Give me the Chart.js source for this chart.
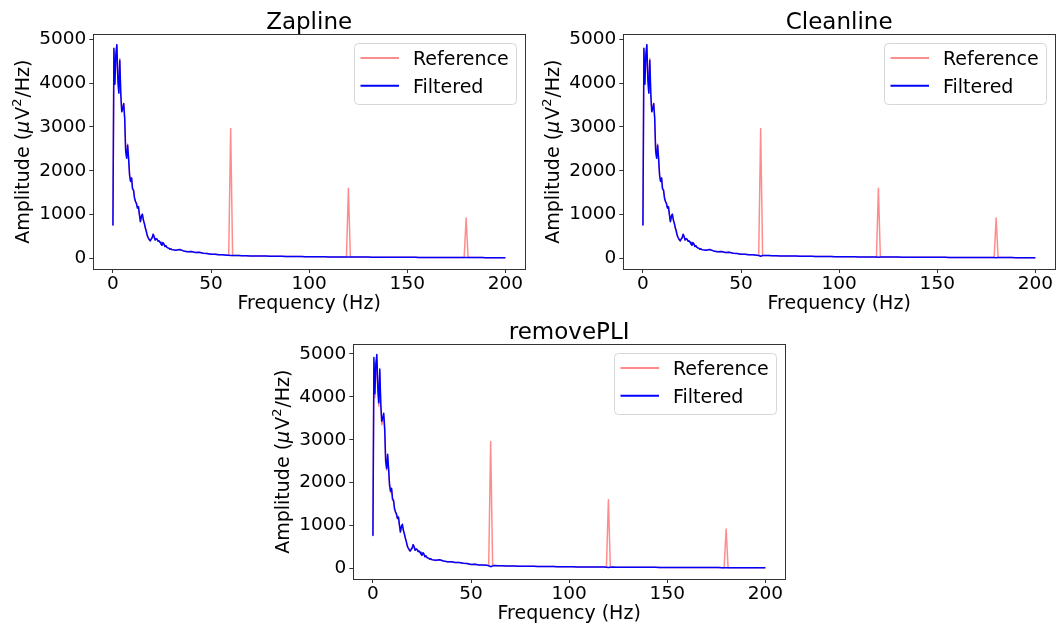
<!DOCTYPE html>
<html>
<head>
<meta charset="utf-8">
<title>Line noise removal: PSD comparison</title>
<script src="https://cdn.jsdelivr.net/npm/chart.js@4.4.1/dist/chart.umd.min.js"></script>
<style>
  html, body { margin: 0; padding: 0; background: #fff; }
  body { width: 1058px; height: 626px; position: relative; overflow: hidden; }
  .panel { position: absolute; }
</style>
</head>
<body>
<div class="panel" style="left:0;top:0"><canvas id="zapline" width="529" height="316"></canvas></div>
<div class="panel" style="left:530px;top:0"><canvas id="cleanline" width="528" height="316"></canvas></div>
<div class="panel" style="left:260px;top:310px"><canvas id="removepli" width="529" height="316"></canvas></div>
<script>
// ── data ─────────────────────────────────────────────────────────────────

// frequency grid (Hz): 0.5 Hz steps up to 30 Hz, then 2 Hz steps plus the line-noise bins
const freqs = [
  0, 0.5, 1, 1.5, 2, 2.5, 3, 3.5, 4, 4.5, 5, 5.5, 6, 6.5, 7, 7.5, 8, 8.5, 9, 9.5,
  10, 10.5, 11, 11.5, 12, 12.5, 13, 13.5, 14, 14.5, 15, 15.5, 16, 16.5, 17, 17.5, 18, 18.5, 19, 19.5,
  20, 20.5, 21, 21.5, 22, 22.5, 23, 23.5, 24, 24.5, 25, 25.5, 26, 26.5, 27, 27.5, 28, 28.5, 29, 29.5, 30,
  32, 34, 36, 38, 40, 42, 44, 46, 48, 50, 52, 54, 56, 58, 59, 60, 61,
  62, 64, 66, 68, 70, 72, 74, 76, 78, 80, 82, 84, 86, 88, 90, 92, 94, 96, 98, 100,
  102, 104, 106, 108, 110, 112, 114, 116, 118, 119, 120, 121,
  122, 124, 126, 128, 130, 132, 134, 136, 138, 140, 142, 144, 146, 148, 150, 152, 154, 156, 158, 160,
  162, 164, 166, 168, 170, 172, 174, 176, 178, 179, 180, 181,
  182, 184, 186, 188, 190, 192, 194, 196, 198, 200,
];

// unfiltered PSD (µV²/Hz), with the 60/120/180 Hz line-noise peaks
const reference = [
  750, 4800, 3980, 4680, 4880, 4100, 3780, 4560, 3760, 3350, 3420, 3540, 3200, 2450, 2290, 2610, 2270, 1900, 1760, 1840,
  1590, 1560, 1380, 1300, 1250, 1150, 1180, 1000, 840, 960, 1010, 880, 800, 700, 620, 520, 470, 430, 400, 440,
  470, 550, 500, 420, 450, 440, 390, 400, 370, 330, 300, 360, 330, 270, 290, 250, 240, 230, 210, 220, 200,
  185, 200, 170, 152, 155, 135, 138, 118, 112, 92, 95, 80, 80, 72, 70, 2960, 67,
  66, 63, 61, 58, 56, 55, 53, 52, 51, 50, 48, 47, 46, 45, 44, 42, 41, 40, 39, 37,
  36, 35, 35, 34, 33, 33, 32, 31, 31, 30, 1600, 30,
  30, 29, 29, 28, 28, 27, 27, 26, 26, 26, 25, 25, 24, 24, 24, 23, 23, 22, 22, 22,
  21, 21, 20, 20, 20, 19, 19, 19, 18, 18, 920, 18,
  18, 17, 17, 17, 16, 16, 16, 15, 15, 15,
];

const zaplineFiltered = [
  750, 4790, 3975, 4640, 4875, 4090, 3770, 4520, 3755, 3345, 3415, 3530, 3195, 2445, 2285, 2580, 2265, 1895, 1755, 1835,
  1585, 1555, 1378, 1298, 1248, 1148, 1178, 998, 838, 958, 1008, 878, 798, 698, 618, 519, 469, 429, 399, 439,
  469, 549, 499, 419, 449, 439, 389, 399, 369, 329, 299, 359, 329, 269, 289, 249, 239, 229, 209, 219, 199,
  185, 200, 170, 152, 155, 135, 138, 118, 112, 92, 95, 80, 80, 72, 70, 66, 67,
  66, 63, 61, 58, 56, 55, 53, 52, 51, 50, 48, 47, 46, 45, 44, 42, 41, 40, 39, 37,
  36, 35, 35, 34, 33, 33, 32, 31, 31, 30, 29, 30,
  30, 29, 29, 28, 28, 27, 27, 26, 26, 26, 25, 25, 24, 24, 24, 23, 23, 22, 22, 22,
  21, 21, 20, 20, 20, 19, 19, 19, 18, 18, 17, 18,
  18, 17, 17, 17, 16, 16, 16, 15, 15, 15,
];

const cleanlineFiltered = [
  750, 4790, 3975, 4640, 4875, 4090, 3770, 4520, 3755, 3345, 3415, 3530, 3195, 2445, 2285, 2580, 2265, 1895, 1755, 1835,
  1585, 1555, 1378, 1298, 1248, 1148, 1178, 998, 838, 958, 1008, 878, 798, 698, 618, 519, 469, 429, 399, 439,
  469, 549, 499, 419, 449, 439, 389, 399, 369, 329, 299, 359, 329, 269, 289, 249, 239, 229, 209, 219, 199,
  185, 200, 170, 152, 155, 135, 138, 118, 112, 92, 95, 80, 80, 72, 66, 48, 64,
  66, 63, 61, 58, 56, 55, 53, 52, 51, 50, 48, 47, 46, 45, 44, 42, 41, 40, 39, 37,
  36, 35, 35, 34, 33, 33, 32, 31, 31, 29, 24, 29,
  30, 29, 29, 28, 28, 27, 27, 26, 26, 26, 25, 25, 24, 24, 24, 23, 23, 22, 22, 22,
  21, 21, 20, 20, 20, 19, 19, 19, 18, 17, 15, 17,
  18, 17, 17, 17, 16, 16, 16, 15, 15, 15,
];

const removePliFiltered = [
  760, 4920, 4070, 4780, 4990, 4200, 3860, 4650, 3840, 3430, 3500, 3620, 3270, 2510, 2330, 2660, 2320, 1940, 1800, 1870,
  1620, 1590, 1400, 1320, 1270, 1170, 1200, 1020, 850, 975, 1030, 895, 810, 710, 630, 525, 475, 435, 405, 445,
  475, 555, 505, 425, 455, 445, 395, 405, 375, 335, 305, 365, 335, 275, 295, 255, 245, 235, 215, 225, 205,
  188, 203, 172, 154, 157, 137, 140, 120, 113, 93, 96, 81, 81, 72, 62, 40, 60,
  66, 63, 61, 58, 56, 55, 53, 52, 51, 50, 48, 47, 46, 45, 44, 42, 41, 40, 39, 37,
  36, 35, 35, 34, 33, 33, 32, 31, 31, 28, 22, 28,
  30, 29, 29, 28, 28, 27, 27, 26, 26, 26, 25, 25, 24, 24, 24, 23, 23, 22, 22, 22,
  21, 21, 20, 20, 20, 19, 19, 19, 18, 17, 14, 17,
  18, 17, 17, 17, 16, 16, 16, 15, 15, 15,
];

const xTicks = [0, 50, 100, 150, 200];
const yTicks = [0, 1000, 2000, 3000, 4000, 5000];

// ── helpers / plugins ─────────────────────────────────────────────────────

const FONT = "DejaVu Sans";
Chart.defaults.font.family = FONT;
Chart.defaults.color = "#000";

function toPoints(values) {
  return freqs.map((f, i) => ({ x: f, y: values[i] }));
}

// matplotlib-like box round the axes
const framePlugin = {
  id: "frame",
  afterDatasetsDraw(chart) {
    const { ctx, chartArea: a } = chart;
    ctx.save();
    ctx.strokeStyle = "#333";
    ctx.lineWidth = 1;
    ctx.strokeRect(Math.round(a.left) + 0.5, Math.round(a.top) + 0.5,
      Math.round(a.right) - Math.round(a.left), Math.round(a.bottom) - Math.round(a.top));
    ctx.restore();
  },
};

// title centred over the axes box
const panelTitle = {
  id: "panelTitle",
  afterDraw(chart, args, opts) {
    const { ctx, chartArea: a } = chart;
    ctx.save();
    ctx.font = `23px "${FONT}"`;
    ctx.fillStyle = "#000";
    ctx.textAlign = "center";
    ctx.textBaseline = "alphabetic";
    ctx.fillText(opts.text, (a.left + a.right) / 2, a.top - 5);
    ctx.restore();
  },
};

// y label with an italic mu and a superscript, like mathtext
const yLabel = {
  id: "yLabel",
  afterDraw(chart) {
    const { ctx, chartArea: a } = chart;
    const fs = 19;
    const parts = [
      { t: "Amplitude (", font: `${fs}px "${FONT}"`, dy: 0 },
      { t: "μ", font: `italic ${fs}px "${FONT}"`, dy: 0 },
      { t: "V", font: `${fs}px "${FONT}"`, dy: 0 },
      { t: "2", font: `${Math.round(fs * 0.7)}px "${FONT}"`, dy: -0.42 * fs },
      { t: "/Hz)", font: `${fs}px "${FONT}"`, dy: 0 },
    ];
    ctx.save();
    let total = 0;
    parts.forEach((p) => { ctx.font = p.font; p.w = ctx.measureText(p.t).width; total += p.w; });
    total += 2;
    ctx.translate(28.5, (a.top + a.bottom) / 2);
    ctx.rotate(-Math.PI / 2);
    ctx.fillStyle = "#000";
    ctx.textBaseline = "alphabetic";
    ctx.textAlign = "left";
    let x = -total / 2;
    parts.forEach((p, i) => {
      ctx.font = p.font;
      ctx.fillText(p.t, x, p.dy);
      x += p.w + (i === 1 || i === 3 ? 1 : 0);
    });
    ctx.restore();
  },
};

// legend in the upper right corner, inside the axes
const cornerLegend = {
  id: "cornerLegend",
  afterDraw(chart) {
    const { ctx, chartArea: a } = chart;
    const items = chart.data.datasets;
    const w = 162, h = 61;
    const x = Math.round(a.right - 9 - w);
    const y = Math.round(a.top + 9);
    ctx.save();
    ctx.beginPath();
    ctx.roundRect(x + 0.5, y + 0.5, w, h, 4);
    ctx.fillStyle = "rgba(255,255,255,0.8)";
    ctx.fill();
    ctx.strokeStyle = "#d6d6d6";
    ctx.lineWidth = 1;
    ctx.stroke();

    ctx.font = `19px "${FONT}"`;
    items.forEach((d, i) => {
      const cy = y + 15 + i * 27.7;
      ctx.beginPath();
      ctx.moveTo(x + 6.5, cy);
      ctx.lineTo(x + 45, cy);
      ctx.strokeStyle = d.borderColor;
      ctx.lineWidth = 2;
      ctx.stroke();
      ctx.fillStyle = "#000";
      ctx.textAlign = "left";
      ctx.textBaseline = "alphabetic";
      ctx.fillText(d.label, x + 59, cy + 7.2);
    });
    ctx.restore();
  },
};

// ── panels ────────────────────────────────────────────────────────────────

function renderPanel(id, title, filtered, yMin, yMax) {
  const ctx = document.getElementById(id);
  new Chart(ctx, {
    type: "line",
    data: {
      datasets: [
        {
          label: "Reference",
          data: toPoints(reference),
          borderColor: "rgba(255,0,0,0.45)",
          borderWidth: 1.5,
          pointRadius: 0,
          tension: 0,
          borderJoinStyle: "round",
          order: 1,
        },
        {
          label: "Filtered",
          data: toPoints(filtered),
          borderColor: "#0000ff",
          borderWidth: 1.5,
          pointRadius: 0,
          tension: 0,
          borderJoinStyle: "round",
          order: 0,
        },
      ],
    },
    options: {
      responsive: false,
      animation: false,
      events: [],
      layout: { padding: { top: 34.3, right: id === "cleanline" ? 3 : 4, bottom: 0, left: 0 } },
      plugins: {
        legend: { display: false },
        tooltip: { enabled: false },
        panelTitle: { text: title },
      },
      scales: {
        x: {
          type: "linear",
          min: -10,
          max: 210,
          afterBuildTicks: (s) => { s.ticks = xTicks.map((v) => ({ value: v })); },
          afterFit: (s) => { s.height = 47; },
          ticks: { font: { size: 18.5 }, color: "#000", padding: 0, maxRotation: 0, callback: (v) => String(v) },
          grid: { display: true, drawOnChartArea: false, drawTicks: true, tickLength: 4, color: "#333" },
          border: { display: false },
          title: { display: true, text: "Frequency (Hz)", font: { size: 19 }, color: "#000", padding: { top: 0, bottom: 0.3 } },
        },
        y: {
          type: "linear",
          min: yMin,
          max: yMax,
          afterBuildTicks: (s) => { s.ticks = yTicks.map((v) => ({ value: v })); },
          afterFit: (s) => { s.width = 93.3; },
          ticks: { font: { size: 18.5 }, color: "#000", padding: 3, callback: (v) => String(v) },
          grid: { display: true, drawOnChartArea: false, drawTicks: true, tickLength: 4, color: "#333" },
          border: { display: false },
          title: { display: false },
        },
      },
    },
    plugins: [framePlugin, panelTitle, yLabel, cornerLegend],
  });
}

renderPanel("zapline", "Zapline", zaplineFiltered, -243, 5112);
renderPanel("cleanline", "Cleanline", cleanlineFiltered, -243, 5112);
renderPanel("removepli", "removePLI", removePliFiltered, -247, 5225);
</script>
</body>
</html>
